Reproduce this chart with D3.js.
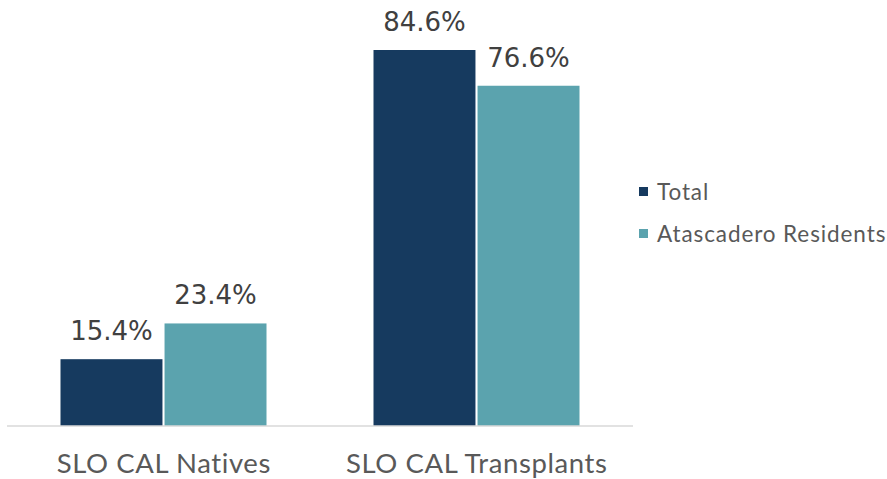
<!DOCTYPE html>
<html>
<head>
<meta charset="utf-8">
<script src="https://cdn.jsdelivr.net/npm/d3@7"></script>
<style>
  body { margin: 0; background: #fff; }
  text { font-family: "Lato", "DejaVu Sans", sans-serif; }
  text.value { font-family: "DejaVu Sans", sans-serif; }
</style>
</head>
<body>
<div class="canvas"></div>
<script>
// data
var categories = ['SLO CAL Natives', 'SLO CAL Transplants'];
var seriesNames = ['Total', 'Atascadero Residents'];
var totalValues = [15.4, 84.6];
var residentValues = [23.4, 76.6];
var colors = ['#163a5f', '#5ba3ae'];

var pageWidth = 887,
    pageHeight = 479;
var axisY = 426;

var svg = d3.select('.canvas')
    .append('svg')
    .attr('width', pageWidth)
    .attr('height', pageHeight);

// x: one band per category, then a sub-band per series
var x0 = d3.scaleBand()
    .domain(categories)
    .range([7, 633])
    .paddingInner(0)
    .paddingOuter(0);

var x1 = d3.scaleBand()
    .domain(seriesNames)
    .range([53.5, x0.bandwidth() - 53.5])
    .paddingInner(0.02);

var y = d3.scaleLinear()
    .domain([0, 84.6])
    .range([428, 50]);

var rows = categories.map(function(c, i){
    return {cat: c, vals: [totalValues[i], residentValues[i]]};
});

var groups = svg.selectAll('g.group')
    .data(rows)
    .enter()
    .append('g')
    .attr('class', 'group')
    .attr('transform', function(d){ return 'translate(' + x0(d.cat) + ',0)'; });

groups.selectAll('rect')
    .data(function(d){ return d.vals.map(function(v, j){ return {name: seriesNames[j], v: v}; }); })
    .enter()
    .append('rect')
    .attr('x', function(d){ return x1(d.name); })
    .attr('width', x1.bandwidth())
    .attr('y', function(d){ return y(d.v); })
    .attr('height', function(d){ return axisY - y(d.v); })
    .style('fill', function(d, j){ return colors[j]; });

// value labels
groups.selectAll('text.value')
    .data(function(d){ return d.vals.map(function(v, j){ return {name: seriesNames[j], v: v}; }); })
    .enter()
    .append('text')
    .attr('class', 'value')
    .attr('x', function(d){ return x1(d.name) + x1.bandwidth() / 2; })
    .attr('y', function(d){ return y(d.v) - 19; })
    .attr('text-anchor', 'middle')
    .style('font-size', '26px')
    .style('fill', '#404040')
    .text(function(d){ return d.v.toFixed(1) + '%'; });

// axis line
svg.append('line')
    .attr('x1', 7).attr('x2', 633)
    .attr('y1', axisY).attr('y2', axisY)
    .style('stroke', '#d9d9d9')
    .style('stroke-width', 1.5);

// category labels
svg.selectAll('text.cat')
    .data(categories)
    .enter()
    .append('text')
    .attr('class', 'cat')
    .attr('x', function(d){ return x0(d) + x0.bandwidth() / 2 + 0.3; })
    .attr('y', 473)
    .attr('text-anchor', 'middle')
    .style('font-size', '27.5px')
    .style('letter-spacing', '0.6px')
    .style('fill', '#595959')
    .text(function(d){ return d; });

// legend
var legend = svg.selectAll('g.legend')
    .data(seriesNames)
    .enter()
    .append('g')
    .attr('class', 'legend')
    .attr('transform', function(d, i){ return 'translate(639,' + (187 + i * 42) + ')'; });

legend.append('rect')
    .attr('width', 9)
    .attr('height', 9)
    .style('fill', function(d, i){ return colors[i]; });

legend.append('text')
    .attr('x', 18)
    .attr('y', 12.5)
    .style('font-size', '22.5px')
    .style('letter-spacing', '0.9px')
    .style('fill', '#595959')
    .text(function(d){ return d; });
</script>
</body>
</html>
